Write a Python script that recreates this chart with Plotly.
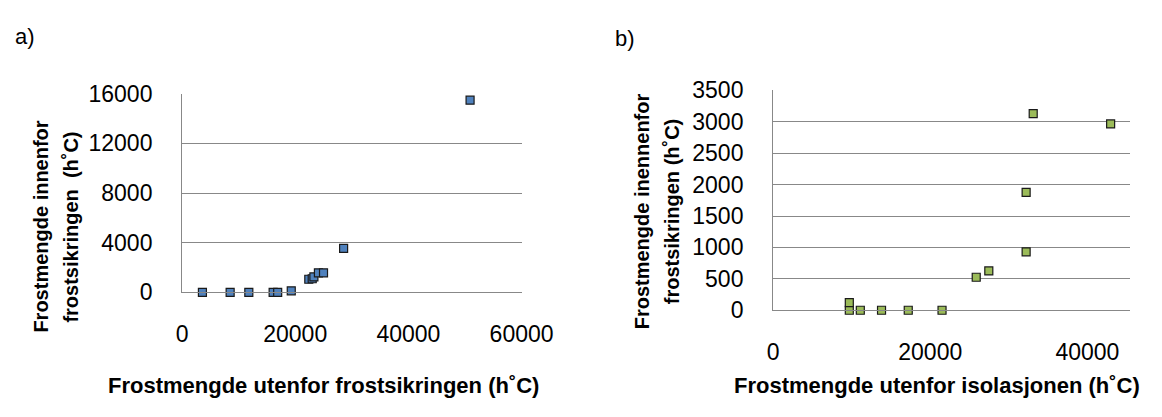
import plotly.graph_objects as go

W, H = 1162, 417

# Panel a) data
a_x = [3600, 8500, 11800, 16100, 16900, 19300, 22400, 23000, 23300, 24100, 25000, 28550, 50900]
a_y = [0, 0, 0, 0, 0, 130, 1060, 1100, 1250, 1580, 1580, 3550, 15470]
a_yticks = [0, 4000, 8000, 12000, 16000]
a_xticks = [0, 20000, 40000, 60000]

# Panel b) data
b_x = [9700, 9700, 11100, 13800, 17200, 21500, 25850, 27450, 32200, 32200, 33100, 42950]
b_y = [0, 120, 0, 0, 0, 0, 525, 625, 930, 1875, 3130, 2965]
b_yticks = [0, 500, 1000, 1500, 2000, 2500, 3000, 3500]
b_xticks = [0, 20000, 40000]

FONT = "'Liberation Sans', Arial, sans-serif"
GRID = "#888888"

def px(x):
    return x / W

def py(y):
    return 1 - y / H

fig = go.Figure()
fig.add_trace(go.Scatter(
    x=a_x, y=a_y, mode="markers", xaxis="x", yaxis="y", cliponaxis=False,
    marker=dict(symbol="square", size=8, color="#4F81BD", line=dict(color="#1a1a1a", width=1.2)),
    showlegend=False))
fig.add_trace(go.Scatter(
    x=b_x, y=b_y, mode="markers", xaxis="x2", yaxis="y2", cliponaxis=False,
    marker=dict(symbol="square", size=8, color="#9BBB59", line=dict(color="#1a1a1a", width=1.2)),
    showlegend=False))

tickfont = dict(family=FONT, size=23, color="#000000")

def xax(domain, rng, ticks, anchor):
    return dict(domain=domain, range=rng, tickvals=ticks, ticktext=[str(t) for t in ticks],
                showgrid=False, zeroline=False, showline=True, linecolor=GRID, linewidth=1,
                ticks="", tickfont=tickfont, anchor=anchor, ticklabelstandoff=21, fixedrange=True)

def yax(domain, rng, ticks, anchor):
    return dict(domain=domain, range=rng, tickvals=ticks, ticktext=[str(t) for t in ticks],
                showgrid=True, gridcolor=GRID, gridwidth=1, zeroline=False,
                showline=True, linecolor=GRID, linewidth=1,
                ticks="", tickfont=tickfont, anchor=anchor, ticklabelstandoff=24, fixedrange=True)

b_xmax = (1162 - 793) / 8.125 * 1000

fig.update_layout(
    width=W, height=H, margin=dict(l=0, r=0, t=0, b=0),
    paper_bgcolor="white", plot_bgcolor="white",
    xaxis=xax([px(182), px(533)], [0, 60000], a_xticks, "y"),
    yaxis=yax([py(298), py(86)], [0, 16000], a_yticks, "x"),
    xaxis2=xax([px(793), 1.0], [0, b_xmax], b_xticks, "y2"),
    yaxis2=yax([py(317), py(82.5)], [0, 3500], b_yticks, "x2"),
)

ytitlefont = dict(family=FONT, size=20, color="#000000")
xtitlefont = dict(family=FONT, size=22, color="#000000")
ann = [
    dict(text="a)", x=px(20), y=py(25), font=dict(family=FONT, size=22, color="#000")),
    dict(text="b)", x=px(640), y=py(27), font=dict(family=FONT, size=22, color="#000")),
    dict(text="<b>Frostmengde innenfor</b>", x=px(36), y=py(228), textangle=-90, font=ytitlefont),
    dict(text="<b>frostsikringen  (h˚C)</b>", x=px(67), y=py(228), textangle=-90, font=ytitlefont),
    dict(text="<b>Frostmengde inennenfor</b>", x=px(657), y=py(212), textangle=-90, font=ytitlefont),
    dict(text="<b>frostsikringen (h˚C)</b>", x=px(688), y=py(212), textangle=-90, font=ytitlefont),
    dict(text="<b>Frostmengde utenfor frostsikringen (h˚C)</b>", x=px(328), y=py(397), font=xtitlefont),
    dict(text="<b>Frostmengde utenfor isolasjonen (h˚C)</b>", x=px(962), y=py(397), font=xtitlefont),
]
for a in ann:
    a.update(xref="paper", yref="paper", showarrow=False, xanchor="center", yanchor="middle")
fig.update_layout(annotations=ann)

fig.write_html("out.html")
